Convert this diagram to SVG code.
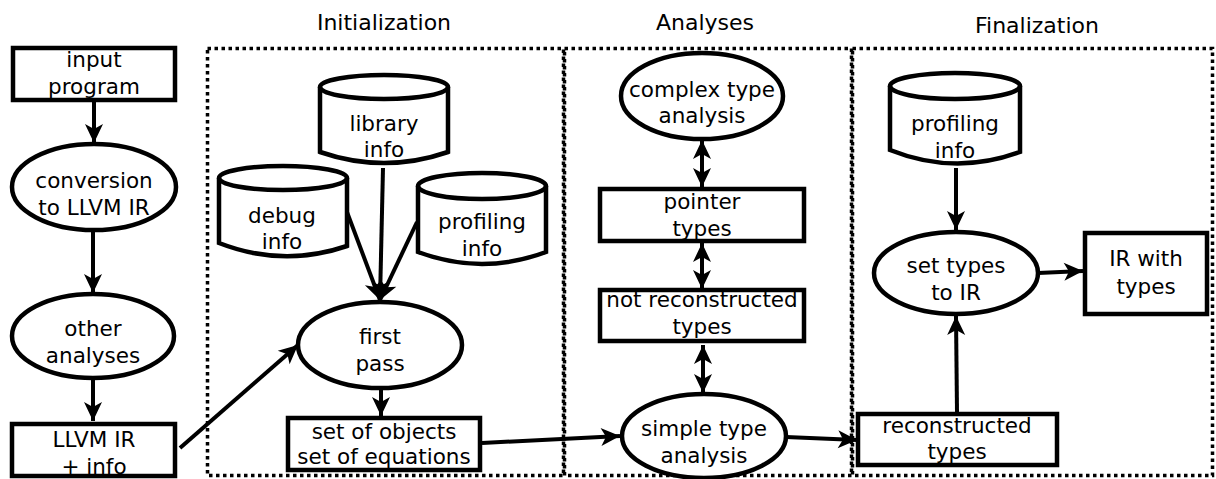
<svg xmlns="http://www.w3.org/2000/svg" width="1216" height="479" viewBox="0 0 1216 479">
<defs>
<marker id="ah" viewBox="-20 -10 21 20" refX="0" refY="0" markerWidth="21" markerHeight="20" markerUnits="userSpaceOnUse" orient="auto-start-reverse">
<path d="M0,0 L-19,-9 L-14,0 L-19,9 Z" fill="#000"/>
</marker>
<style>
.t{font-family:"DejaVu Sans","Liberation Sans",sans-serif;font-size:21.5px;text-anchor:middle;fill:#000}
.h{font-family:"DejaVu Sans","Liberation Sans",sans-serif;font-size:22px;text-anchor:middle;fill:#000}
.s{fill:#fff;stroke:#000;stroke-width:4.5}
.fr{fill:none;stroke:#000;stroke-width:3.5;stroke-dasharray:3.5 3.5}
.c{fill:none;stroke:#000;stroke-width:4}
.a{marker-end:url(#ah)}
.d{marker-start:url(#ah);marker-end:url(#ah)}
</style>
</defs>
<rect width="1216" height="479" fill="#fff"/>
<g id="frames">
<rect class="fr" x="207.5" y="48.5" width="356" height="427"/>
<rect class="fr" x="564.5" y="48.5" width="287" height="427"/>
<rect class="fr" x="852.5" y="48.5" width="360" height="427"/>
<text class="h" x="384" y="30">Initialization</text>
<text class="h" x="705" y="30">Analyses</text>
<text class="h" x="1037" y="33">Finalization</text>
</g>
<g id="connectors">
<line class="c a" x1="94" y1="101" x2="94" y2="143"/>
<line class="c a" x1="93" y1="230" x2="93" y2="293"/>
<line class="c a" x1="93" y1="379" x2="93" y2="421"/>
<line class="c a" x1="180" y1="448" x2="298" y2="345"/>
<line class="c a" x1="383" y1="168" x2="380" y2="300"/>
<line class="c a" x1="347" y1="212" x2="380" y2="300"/>
<line class="c a" x1="417" y1="222" x2="380" y2="300"/>
<line class="c a" x1="381" y1="388" x2="381" y2="416"/>
<line class="c a" x1="482" y1="443" x2="620" y2="436"/>
<line class="c d" x1="702" y1="140" x2="702" y2="187"/>
<line class="c d" x1="702" y1="243" x2="702" y2="289"/>
<line class="c d" x1="703" y1="345" x2="703" y2="393"/>
<line class="c a" x1="786" y1="437" x2="857" y2="440"/>
<line class="c a" x1="956" y1="168" x2="956" y2="230"/>
<line class="c a" x1="957" y1="412" x2="956" y2="316"/>
<line class="c a" x1="1038" y1="273" x2="1083" y2="271"/>
</g>
<g id="input-program">
<rect class="s" x="13" y="48" width="162" height="52"/>
<text class="t" x="94" y="67">input</text>
<text class="t" x="94" y="94">program</text>
</g>
<g id="conversion">
<ellipse class="s" cx="94" cy="187" rx="82" ry="43"/>
<text class="t" x="94" y="188">conversion</text>
<text class="t" x="94" y="215">to LLVM IR</text>
</g>
<g id="other-analyses">
<ellipse class="s" cx="93" cy="336" rx="81" ry="42"/>
<text class="t" x="93" y="336">other</text>
<text class="t" x="93" y="363">analyses</text>
</g>
<g id="llvm-ir-info">
<rect class="s" x="12" y="424" width="163" height="52"/>
<text class="t" x="94" y="447">LLVM IR</text>
<text class="t" x="94" y="474">+ info</text>
</g>
<g id="library-info">
<path class="s" d="M320,87 A64,12 0 0 1 448,87 L448,152 Q384,174 320,152 Z"/>
<path class="c" style="stroke-width:4.5" d="M320,87 A64,12 0 0 0 448,87"/>
<text class="t" x="384" y="131">library</text>
<text class="t" x="384" y="157">info</text>
</g>
<g id="debug-info">
<path class="s" d="M219,178 A64,12 0 0 1 347,178 L347,246 Q283,268 219,243 Z"/>
<path class="c" style="stroke-width:4.5" d="M219,178 A64,12 0 0 0 347,178"/>
<text class="t" x="282" y="223">debug</text>
<text class="t" x="282" y="249">info</text>
</g>
<g id="profiling-info-1">
<path class="s" d="M418,186 A64,13 0 0 1 546,186 L546,252 Q482,276 418,252 Z"/>
<path class="c" style="stroke-width:4.5" d="M418,186 A64,13 0 0 0 546,186"/>
<text class="t" x="482" y="229">profiling</text>
<text class="t" x="482" y="256">info</text>
</g>
<g id="first-pass">
<ellipse class="s" cx="380" cy="345" rx="82" ry="43"/>
<text class="t" x="380" y="344">first</text>
<text class="t" x="380" y="371">pass</text>
</g>
<g id="set-of-objects">
<rect class="s" x="288" y="418" width="192" height="52"/>
<text class="t" x="384" y="439">set of objects</text>
<text class="t" x="384" y="464">set of equations</text>
</g>
<g id="complex-type-analysis">
<ellipse class="s" cx="702" cy="96" rx="81" ry="43"/>
<text class="t" x="702" y="97">complex type</text>
<text class="t" x="702" y="123">analysis</text>
</g>
<g id="pointer-types">
<rect class="s" x="600" y="189" width="204" height="52"/>
<text class="t" x="702" y="209">pointer</text>
<text class="t" x="702" y="236">types</text>
</g>
<g id="not-reconstructed-types">
<rect class="s" x="600" y="290" width="204" height="51"/>
<text class="t" x="702" y="307">not reconstructed</text>
<text class="t" x="702" y="334">types</text>
</g>
<g id="simple-type-analysis">
<ellipse class="s" cx="704" cy="436" rx="82" ry="42"/>
<text class="t" x="704" y="436">simple type</text>
<text class="t" x="704" y="463">analysis</text>
</g>
<g id="profiling-info-2">
<path class="s" d="M890,86 A65,13 0 0 1 1020,86 L1020,152 Q955,176 890,150 Z"/>
<path class="c" style="stroke-width:4.5" d="M890,86 A65,13 0 0 0 1020,86"/>
<text class="t" x="955" y="131">profiling</text>
<text class="t" x="955" y="158">info</text>
</g>
<g id="set-types-to-ir">
<ellipse class="s" cx="956" cy="273" rx="82" ry="41"/>
<text class="t" x="956" y="273">set types</text>
<text class="t" x="956" y="300">to IR</text>
</g>
<g id="ir-with-types">
<rect class="s" x="1085" y="233" width="122" height="81"/>
<text class="t" x="1146" y="266">IR with</text>
<text class="t" x="1146" y="294">types</text>
</g>
<g id="reconstructed-types">
<rect class="s" x="858" y="414" width="199" height="51"/>
<text class="t" x="957" y="433">reconstructed</text>
<text class="t" x="957" y="459">types</text>
</g>
</svg>
